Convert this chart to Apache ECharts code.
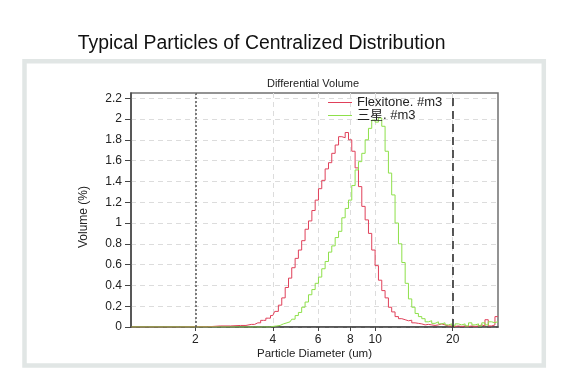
<!DOCTYPE html>
<html><head><meta charset="utf-8">
<script src="https://cdn.jsdelivr.net/npm/echarts@6/dist/echarts.min.js"></script>
<style>html,body{margin:0;padding:0;background:#fff}#c{width:576px;height:386px}</style>
</head><body><div id="c"></div>
<script>
// Particle diameter bins (um)
const diameters = [1.13, 1.5, 2.0, 2.5, 3.0, 3.3, 3.5, 3.68, 3.84, 4.0, 4.14, 4.27, 4.4, 4.54, 4.67, 4.81, 4.96, 5.1, 5.26, 5.42, 5.59, 5.76, 5.93, 6.11, 6.29, 6.49, 6.68, 6.88, 7.1, 7.31, 7.53, 7.76, 7.99, 8.23, 8.48, 8.74, 9.0, 9.28, 9.55, 9.84, 10.14, 10.45, 10.76, 11.09, 11.42, 11.76, 12.13, 12.5, 12.88, 13.27, 13.66, 14.08, 14.5, 14.94, 15.4, 15.86, 16.33, 16.83, 17.34, 17.86, 18.4, 18.96, 19.54, 20.13, 20.74, 21.37, 22.0, 22.7, 23.4, 24.1, 24.8, 25.6, 26.3, 27.1, 27.9, 28.8, 29.6, 30];
// Volume (%) — Flexitone
const flexitone = [0, 0, 0.002, 0.01, 0.015, 0.025, 0.04, 0.064, 0.085, 0.11, 0.15, 0.21, 0.28, 0.38, 0.47, 0.57, 0.66, 0.74, 0.83, 0.94, 1.02, 1.12, 1.22, 1.33, 1.41, 1.52, 1.58, 1.67, 1.75, 1.83, 1.82, 1.87, 1.80, 1.69, 1.53, 1.35, 1.16, 1.03, 0.90, 0.74, 0.59, 0.45, 0.35, 0.28, 0.19, 0.145, 0.10, 0.08, 0.07, 0.06, 0.065, 0.04, 0.035, 0.03, 0.02, 0.025, 0.02, 0.015, 0.02, 0.03, 0.02, 0.01, 0.01, 0.005, 0.01, 0.005, 0.01, 0.005, 0.01, 0.005, 0.01, 0.02, 0.01, 0.07, 0.01, 0.02, 0.1, 0.1];
// Volume (%) — 三星
const samsung = [0, 0, 0, 0, 0, 0, 0, 0, 0, 0.005, 0.01, 0.015, 0.03, 0.04, 0.05, 0.075, 0.11, 0.14, 0.19, 0.24, 0.31, 0.36, 0.42, 0.48, 0.56, 0.63, 0.72, 0.78, 0.86, 0.92, 1.05, 1.14, 1.22, 1.36, 1.51, 1.59, 1.67, 1.80, 1.91, 1.99, 1.97, 2.01, 1.93, 1.69, 1.48, 1.27, 1.0, 0.80, 0.62, 0.42, 0.27, 0.19, 0.13, 0.10, 0.08, 0.05, 0.06, 0.035, 0.05, 0.03, 0.04, 0.02, 0.03, 0.01, 0.03, 0.02, 0.03, 0.01, 0.04, 0.02, 0.03, 0.01, 0.04, 0.02, 0.05, 0.04, 0.05, 0.05];
const seriesNames = ['Flexitone. #m3', '三星. #m3'];
const xTicks = [2, 4, 6, 8, 10, 20];
const yTicks = [0, 0.2, 0.4, 0.6, 0.8, 1, 1.2, 1.4, 1.6, 1.8, 2, 2.2];
const markerLow = 2, markerHigh = 20;

const FONT = 'Liberation Sans, Arial, Noto Sans CJK SC, sans-serif';
const chart = echarts.init(document.getElementById('c'), null, {renderer: 'canvas'});
const pairs = vals => diameters.map((d, i) => [d, vals[i]]);

chart.setOption({
  animation: false,
  backgroundColor: '#fff',
  grid: {left: 131, right: 78, top: 93, bottom: 59, show: true, borderColor: '#707070', borderWidth: 1.5, backgroundColor: 'transparent'},
  graphic: [
    {type: 'rect', z: -10, shape: {x: 24.5, y: 61.3, width: 519.3, height: 304.2}, style: {fill: 'none', stroke: '#e1e6e5', lineWidth: 4.5}},
    {type: 'text', x: 254, y: 43, style: {text: 'Typical Particles of Centralized Distribution', font: '20px ' + FONT, fill: '#111', textAlign: 'center', textVerticalAlign: 'middle'}, scaleX: 0.97, originX: 254},
    {type: 'text', x: 313, y: 84, style: {text: 'Differential Volume', font: '11px ' + FONT, fill: '#222', textAlign: 'center', textVerticalAlign: 'middle'}},
    {type: 'text', x: 84, y: 217, rotation: Math.PI / 2, style: {text: 'Volume (%)', font: '12px ' + FONT, fill: '#222', textAlign: 'center', textVerticalAlign: 'middle'}},
    {type: 'text', x: 314.5, y: 354, style: {text: 'Particle Diameter (um)', font: '11.5px ' + FONT, fill: '#222', textAlign: 'center', textVerticalAlign: 'middle'}}
  ],
  legend: {
    orient: 'vertical', left: 328, top: 96, padding: 0, itemGap: 0, itemWidth: 24, itemHeight: 1, icon: 'rect',
    textStyle: {fontFamily: FONT, fontSize: 13, color: '#222', lineHeight: 13},
    data: seriesNames
  },
  xAxis: {
    type: 'log', logBase: 10, min: 1.125, max: 30,
    axisLine: {lineStyle: {color: '#444', width: 1.5}},
    axisTick: {show: true, length: 4, customValues: xTicks, lineStyle: {color: '#444'}},
    axisLabel: {customValues: xTicks, margin: 7, fontFamily: FONT, fontSize: 12, color: '#222', formatter: v => String(Math.round(v))},
    splitLine: {show: true, lineStyle: {color: '#dcdcdc', type: [5, 4], width: 1}},
    minorTick: {show: false}, minorSplitLine: {show: false}
  },
  yAxis: {
    type: 'value', min: 0, max: 2.25, interval: 0.2,
    axisLine: {show: true, lineStyle: {color: '#444', width: 1.5}},
    axisTick: {show: true, length: 6, customValues: yTicks, lineStyle: {color: '#444'}},
    axisLabel: {customValues: yTicks, margin: 9, fontFamily: FONT, fontSize: 12, color: '#222', formatter: v => String(+(+v).toFixed(1))},
    splitLine: {show: true, lineStyle: {color: '#dcdcdc', type: [5, 4], width: 1}}
  },
  series: [
    {
      name: seriesNames[0], type: 'line', step: 'middle', symbol: 'none',
      data: pairs(flexitone), lineStyle: {color: '#e0405a', width: 1}, itemStyle: {color: '#e0405a'},
      markLine: {
        silent: true, symbol: 'none', label: {show: false},
        data: [
          {xAxis: markerLow, lineStyle: {color: '#555', type: [2, 2], width: 1.5}},
          {xAxis: markerHigh, lineStyle: {color: '#222', type: [8, 5], width: 1.5}}
        ]
      }
    },
    {
      name: seriesNames[1], type: 'line', step: 'middle', symbol: 'none',
      data: pairs(samsung), lineStyle: {color: '#8ee04a', width: 1}, itemStyle: {color: '#8ee04a'}
    }
  ]
});
</script></body></html>
